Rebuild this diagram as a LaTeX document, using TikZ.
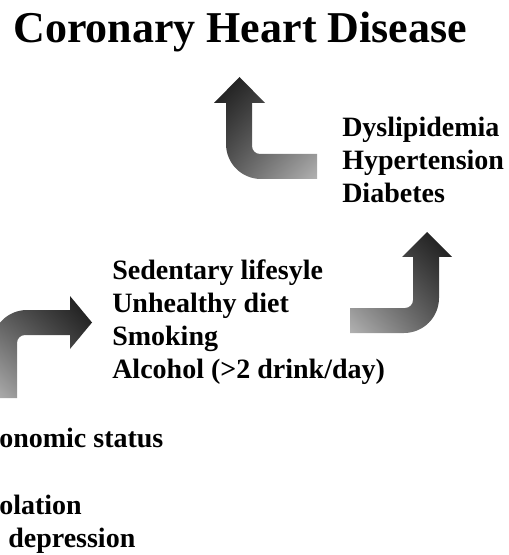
\documentclass[tikz,border=0pt]{standalone}
\usepackage{fontspec}
\setmainfont{Liberation Serif}
\usepackage{tikz}
\usetikzlibrary{shadings}

\definecolor{headgray}{RGB}{22,22,22}
\definecolor{midgray}{RGB}{80,80,80}
\definecolor{tailgray}{RGB}{178,178,178}

\tikzset{
  titletext/.style={font=\fontsize{33}{36}\selectfont\bfseries, inner sep=0pt},
  risktext/.style={font=\fontsize{21}{24.75}\selectfont\bfseries, inner sep=0pt, align=left},
  rightarrow/.style={lower left=tailgray, upper right=headgray, upper left=midgray, lower right=midgray},
  leftarrow/.style={lower right=tailgray, upper left=headgray, upper right=midgray, lower left=midgray},
}

\begin{document}
\begin{tikzpicture}[x=0.75pt,y=0.75pt,yscale=-1,xscale=1]
\path[use as bounding box] (0,0) rectangle (508,555);
\clip (0,0) rectangle (508,555);

%Shape: Bent Arrow (bottom left)
\shade[rightarrow] (-8,398) -- (-8,345) arc[start angle=180, end angle=270, radius=35] -- (70,310) -- (70,296) -- (92,322.5) -- (70,349) -- (70,335) -- (25,335) arc[start angle=270, end angle=180, radius=8] -- (17,398) -- cycle;

%Shape: Bent Arrow (bottom right)
\shade[rightarrow] (350,308) -- (405,308) arc[start angle=90, end angle=0, radius=8] -- (413,257) -- (402,257) -- (427,232) -- (452,257) -- (439,257) -- (439,298) arc[start angle=0, end angle=90, radius=35] -- (350,333) -- cycle;

%Shape: Bent Arrow (top left)
\shade[leftarrow] (317,154) -- (260,154) arc[start angle=90, end angle=180, radius=8] -- (252,103) -- (265,103) -- (239.5,77) -- (214,103) -- (226,103) -- (226,144) arc[start angle=180, end angle=90, radius=35] -- (317,179) -- cycle;

% Text Node
\draw (13,43) node (chd) [titletext, anchor=base west] {Coronary Heart Disease};
% Text Node
\draw (342,117) node (metabolic) [risktext, anchor=north west] {Dyslipidemia\\Hypertension\\Diabetes};
% Text Node
\draw (112,260) node (lifestyle) [risktext, anchor=north west] {Sedentary lifesyle\\Unhealthy diet\\Smoking\\Alcohol (>2 drink/day)};
% Text Node
\draw (-1,447) node (ses) [risktext, anchor=base west] {onomic status};
% Text Node
\draw (-1,514) node (isolation) [risktext, anchor=base west] {olation};
% Text Node
\draw (8,547) node (depression) [risktext, anchor=base west] {depression};

\end{tikzpicture}
\end{document}
